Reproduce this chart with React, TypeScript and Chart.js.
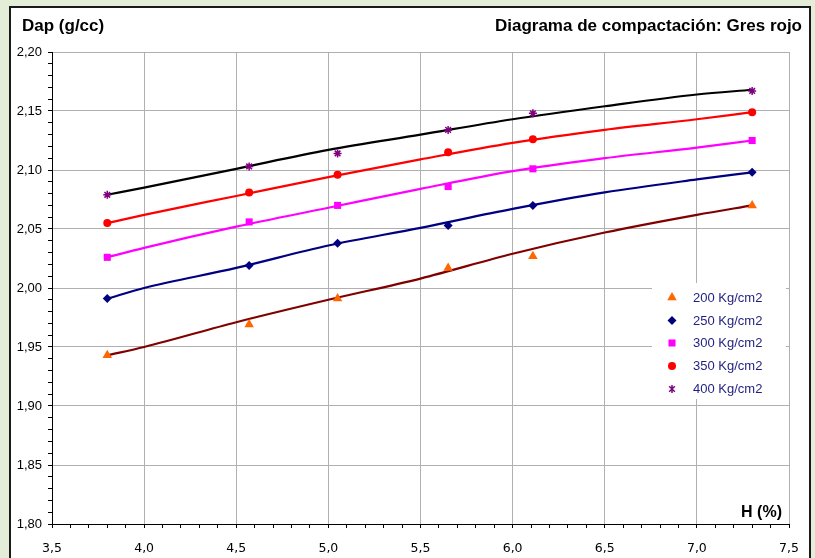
import React, { useEffect, useRef } from "react";
import { Chart, registerables } from "chart.js";

Chart.register(...registerables);

// Measured points: H (%) vs Dap (g/cc)
const H_VALUES = [3.8, 4.57, 5.05, 5.65, 6.11, 7.3];
const D200 = [1.943, 1.969, 1.991, 2.017, 2.027, 2.07];
const D250 = [1.991, 2.019, 2.038, 2.053, 2.07, 2.098];
const D300 = [2.026, 2.056, 2.07, 2.086, 2.101, 2.125];
const D350 = [2.055, 2.081, 2.096, 2.115, 2.126, 2.149];
const D400 = [2.079, 2.103, 2.114, 2.134, 2.148, 2.167];

// Trend lines
const TREND_H = [3.8, 4.0, 4.5, 5.0, 5.5, 6.0, 6.5, 7.0, 7.3];
const T200 = [1.943, 1.95, 1.971, 1.99, 2.008, 2.029, 2.047, 2.062, 2.07];
const T250 = [1.991, 2.0, 2.017, 2.036, 2.051, 2.067, 2.081, 2.092, 2.098];
const T300 = [2.026, 2.034, 2.052, 2.068, 2.084, 2.099, 2.11, 2.119, 2.125];
const T350 = [2.055, 2.062, 2.078, 2.094, 2.109, 2.123, 2.134, 2.143, 2.149];
const T400 = [2.079, 2.085, 2.101, 2.117, 2.13, 2.143, 2.154, 2.164, 2.168];

const SERIES_LABELS = ["200 Kg/cm2", "250 Kg/cm2", "300 Kg/cm2", "350 Kg/cm2", "400 Kg/cm2"];
const Y_TITLE = "Dap (g/cc)";
const X_TITLE = "H (%)";
const CHART_TITLE = "Diagrama de compactación: Gres rojo";

const MARKER_COLORS = ["#FF6600", "#000080", "#FF00FF", "#FF0000", "#800080"];
const LINE_COLORS = ["#800000", "#000080", "#FF00FF", "#FF0000", "#000000"];
const MARKER_STYLES = ["triangle", "rectRot", "rect", "circle", "star"];
const MARKER_RADII = [5.5, 4.5, 5, 4, 4];

const isMult = (v: number, step: number) => Math.abs(v / step - Math.round(v / step)) < 1e-6;

function drawMarker(ctx: CanvasRenderingContext2D, style: string, x: number, y: number, r: number, color: string) {
  ctx.save();
  ctx.fillStyle = color;
  ctx.strokeStyle = color;
  ctx.lineWidth = 1.5;
  ctx.beginPath();
  if (style === "triangle") {
    const w = r * Math.sqrt(3) / 2;
    ctx.moveTo(x, y - r);
    ctx.lineTo(x + w, y + r / 2);
    ctx.lineTo(x - w, y + r / 2);
    ctx.closePath();
    ctx.fill();
  } else if (style === "rectRot") {
    ctx.moveTo(x - r, y);
    ctx.lineTo(x, y - r);
    ctx.lineTo(x + r, y);
    ctx.lineTo(x, y + r);
    ctx.closePath();
    ctx.fill();
  } else if (style === "rect") {
    const s = r * Math.SQRT1_2;
    ctx.rect(x - s, y - s, 2 * s, 2 * s);
    ctx.fill();
  } else if (style === "circle") {
    ctx.arc(x, y, r, 0, Math.PI * 2);
    ctx.fill();
  } else {
    const d = r * Math.SQRT1_2;
    ctx.moveTo(x - d, y - d);
    ctx.lineTo(x + d, y + d);
    ctx.moveTo(x + d, y - d);
    ctx.lineTo(x - d, y + d);
    ctx.moveTo(x, y - r);
    ctx.lineTo(x, y + r);
    ctx.stroke();
  }
  ctx.restore();
}

const framePlugin = {
  id: "frame",
  beforeDraw(chart: any) {
    const ctx = chart.ctx as CanvasRenderingContext2D;
    ctx.save();
    ctx.fillStyle = "#E3EDD8";
    ctx.fillRect(0, 0, chart.width, chart.height);
    ctx.fillStyle = "#FFFFFF";
    ctx.fillRect(10, 7, 800, chart.height);
    ctx.strokeStyle = "#1a1a1a";
    ctx.lineWidth = 2;
    ctx.strokeRect(10, 7, 800, chart.height + 10);
    ctx.restore();
  },
  afterDraw(chart: any) {
    const ctx = chart.ctx as CanvasRenderingContext2D;
    const area = chart.chartArea;
    ctx.save();
    ctx.fillStyle = "#000";
    ctx.font = "bold 17px 'Liberation Sans', Arial, sans-serif";
    ctx.textBaseline = "alphabetic";
    ctx.textAlign = "left";
    ctx.fillText(Y_TITLE, 22, 31);
    ctx.textAlign = "right";
    ctx.fillText(CHART_TITLE, 802, 31);
    ctx.font = "bold 16px 'Liberation Sans', Arial, sans-serif";
    ctx.textAlign = "right";
    ctx.fillText(X_TITLE, area.right - 7, area.bottom - 7);

    // legend box inside the plot
    const bx = 652, by = 283, bw = 134, bh = 116;
    ctx.fillStyle = "#FFFFFF";
    ctx.fillRect(bx, by, bw, bh);
    const rows = [297.5, 320.5, 343, 366, 389];
    ctx.font = "13px 'Liberation Sans', Arial, sans-serif";
    ctx.textAlign = "left";
    ctx.textBaseline = "middle";
    SERIES_LABELS.forEach((lab, i) => {
      drawMarker(ctx, MARKER_STYLES[i], 672, rows[i], MARKER_RADII[i], MARKER_COLORS[i]);
      ctx.fillStyle = "#1F1F80";
      ctx.fillText(lab, 693, rows[i] + 0.5);
    });
    ctx.restore();
  },
};

export default function App() {
  const ref = useRef<HTMLCanvasElement | null>(null);

  useEffect(() => {
    if (!ref.current) return;
    const pointSets = [D200, D250, D300, D350, D400];
    const trendSets = [T200, T250, T300, T350, T400];

    const pointDatasets = pointSets.map((arr, i) => ({
      label: SERIES_LABELS[i],
      data: H_VALUES.map((h, j) => ({ x: h, y: arr[j] })),
      showLine: false,
      pointStyle: MARKER_STYLES[i],
      pointRadius: MARKER_RADII[i],
      pointBackgroundColor: MARKER_COLORS[i],
      pointBorderColor: MARKER_COLORS[i],
      pointBorderWidth: i === 4 ? 1.5 : 0,
      order: 0,
    }));
    const trendDatasets = trendSets.map((arr, i) => ({
      label: "trend " + SERIES_LABELS[i],
      data: TREND_H.map((h, j) => ({ x: h, y: arr[j] })),
      showLine: true,
      borderColor: LINE_COLORS[i],
      borderWidth: 2.2,
      pointRadius: 0,
      cubicInterpolationMode: "monotone",
      order: 1,
    }));

    const chart = new Chart(ref.current, {
      type: "scatter",
      data: { datasets: [...pointDatasets, ...trendDatasets] as any },
      options: {
        animation: false,
        responsive: false,
        devicePixelRatio: 1,
        layout: { padding: { left: 0, top: 52, right: 26, bottom: 0 } },
        plugins: { legend: { display: false }, tooltip: { enabled: false }, title: { display: false } },
        scales: {
          x: {
            type: "linear",
            min: 3.5,
            max: 7.5,
            afterFit: (s: any) => { s.height = 34; },
            ticks: {
              stepSize: 0.1,
              autoSkip: false,
              maxRotation: 0,
              padding: 13,
              color: "#000",
              font: { family: "'DejaVu Sans', sans-serif", size: 12.5 },
              callback: (v: any) => (isMult(Number(v), 0.5) ? Number(v).toFixed(1).replace(".", ",") : ""),
            },
            grid: {
              color: (c: any) => (c.tick && isMult(c.tick.value, 0.5) ? "#B0B0B0" : "rgba(0,0,0,0)"),
              tickColor: "#000",
              tickLength: 4,
              lineWidth: 1,
            },
            border: { color: "#000", width: 1 },
          },
          y: {
            type: "linear",
            min: 1.8,
            max: 2.2,
            afterFit: (s: any) => { s.width = 52; },
            ticks: {
              stepSize: 0.01,
              autoSkip: false,
              padding: 6,
              color: "#000",
              font: { family: "'Liberation Sans', Arial, sans-serif", size: 13 },
              callback: (v: any) => (isMult(Number(v), 0.05) ? Number(v).toFixed(2).replace(".", ",") : ""),
            },
            grid: {
              color: (c: any) => (c.tick && isMult(c.tick.value, 0.05) ? "#B0B0B0" : "rgba(0,0,0,0)"),
              tickColor: "#000",
              tickLength: 4,
              lineWidth: 1,
            },
            border: { color: "#000", width: 1 },
          },
        },
      } as any,
      plugins: [framePlugin],
    });
    return () => chart.destroy();
  }, []);

  return (
    <div style={{ position: "absolute", left: 0, top: 0, width: 815, height: 558 }}>
      <canvas ref={ref} width={815} height={558} style={{ display: "block" }} />
    </div>
  );
}
